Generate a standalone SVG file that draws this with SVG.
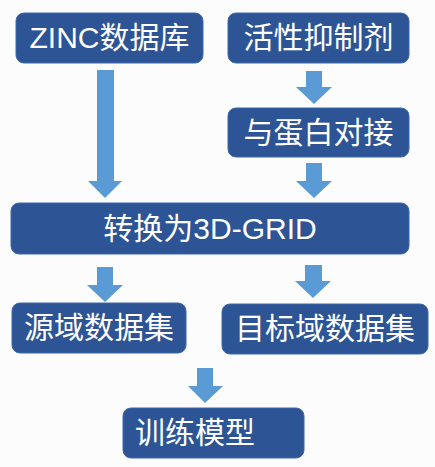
<svg xmlns="http://www.w3.org/2000/svg" width="435" height="467" viewBox="0 0 435 467">
<style>
.box{fill:#2D5595;stroke:#3F68AA;stroke-width:1}
.lbl{fill:#fff;font-family:"Liberation Sans","Noto Sans CJK SC",sans-serif;font-size:30px;text-anchor:middle}
.arr{fill:#5B9BD5}
</style>
<rect width="435" height="467" fill="#FCFCFD"/>
<g id="connectors">
<polygon class="arr" points="97,70 114,70 114,181 122,181 105,198 88,181 97,181"/>
<polygon class="arr" points="306,71 322,71 322,87 332,87 314,104 296,87 306,87"/>
<polygon class="arr" points="306,163 322,163 322,181 332,181 314,198 296,181 306,181"/>
<polygon class="arr" points="97,267 113,267 113,285 123,285 105,302 87,285 97,285"/>
<polygon class="arr" points="305,265 322,265 322,281 331,281 313,298 295,281 305,281"/>
<polygon class="arr" points="197,368 213,368 213,386 223,386 205,403 188,386 197,386"/>
</g>
<g id="zinc"><rect class="box" x="16" y="13" width="187" height="50" rx="8"/><text class="lbl" x="109.5" y="48">ZINC数据库</text></g>
<g id="inhibitor"><rect class="box" x="228" y="13" width="181" height="50" rx="8"/><text class="lbl" x="318.5" y="48">活性抑制剂</text></g>
<g id="docking"><rect class="box" x="228" y="108" width="181" height="49" rx="8"/><text class="lbl" x="318.5" y="143">与蛋白对接</text></g>
<g id="grid"><rect class="box" x="11" y="203" width="398" height="51" rx="8"/><text class="lbl" x="210" y="239">转换为3D-GRID</text></g>
<g id="source"><rect class="box" x="12" y="303" width="174" height="50" rx="8"/><text class="lbl" x="99" y="338">源域数据集</text></g>
<g id="target"><rect class="box" x="222" y="304" width="206" height="50" rx="8"/><text class="lbl" x="325" y="339">目标域数据集</text></g>
<g id="train"><rect class="box" x="123" y="408" width="181" height="50" rx="8"/><text class="lbl" x="135" y="443" style="text-anchor:start">训练模型</text></g>
</svg>
